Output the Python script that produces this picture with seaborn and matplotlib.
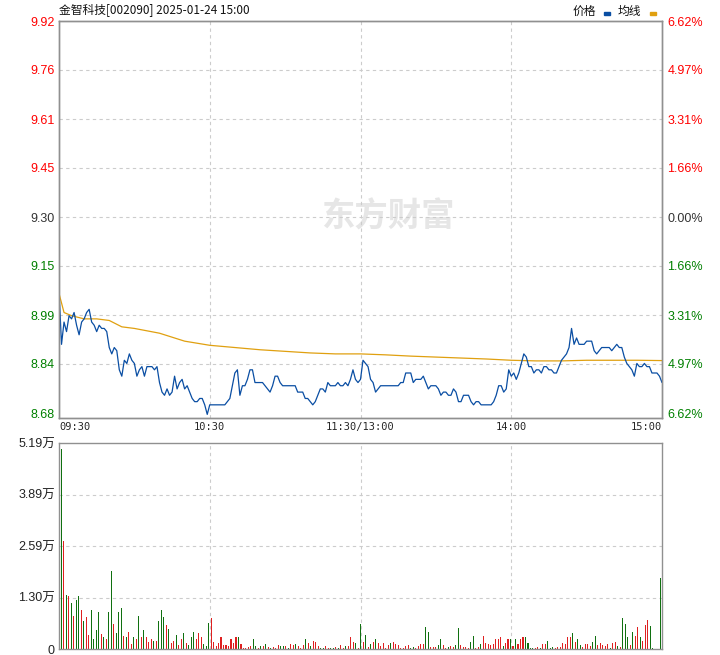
import numpy as np
import pandas as pd
import seaborn as sns
import matplotlib.pyplot as plt
from matplotlib.patches import Rectangle

# ---- data (one value per minute, 09:30 .. 15:00) ----
title = '金智科技[002090] 2025-01-24 15:00'
prev_close = 9.30
price_labels = ['9.92', '9.76', '9.61', '9.45', '9.30', '9.15', '8.99', '8.84', '8.68']
pct_labels = ['6.62%', '4.97%', '3.31%', '1.66%', '0.00%', '1.66%', '3.31%', '4.97%', '6.62%']
limit_pct = 6.62

price = [
    9.07, 8.90, 8.97, 8.94, 8.99, 8.98, 9.00, 8.96, 8.93, 8.97,
    8.98, 9.00, 9.01, 8.97, 8.96, 8.94, 8.96, 8.95, 8.95, 8.94,
    8.89, 8.87, 8.89, 8.88, 8.82, 8.80, 8.85, 8.84, 8.87, 8.85,
    8.84, 8.80, 8.82, 8.83, 8.80, 8.83, 8.83, 8.83, 8.82, 8.83,
    8.78, 8.75, 8.74, 8.76, 8.74, 8.75, 8.80, 8.76, 8.78, 8.79,
    8.76, 8.77, 8.75, 8.73, 8.72, 8.72, 8.73, 8.73, 8.71, 8.68,
    8.71, 8.71, 8.71, 8.71, 8.71, 8.71, 8.71, 8.72, 8.73, 8.77,
    8.81, 8.82, 8.74, 8.77, 8.77, 8.79, 8.82, 8.82, 8.78, 8.78,
    8.78, 8.78, 8.77, 8.76, 8.75, 8.77, 8.80, 8.80, 8.78, 8.77,
    8.77, 8.77, 8.77, 8.77, 8.77, 8.75, 8.75, 8.75, 8.73, 8.73,
    8.72, 8.71, 8.72, 8.74, 8.76, 8.76, 8.75, 8.78, 8.77, 8.77,
    8.77, 8.78, 8.77, 8.77, 8.78, 8.77, 8.79, 8.82, 8.79, 8.78,
    8.79, 8.85, 8.84, 8.83, 8.79, 8.78, 8.75, 8.76, 8.77, 8.77,
    8.77, 8.77, 8.77, 8.77, 8.77, 8.77, 8.78, 8.78, 8.81, 8.81,
    8.81, 8.78, 8.79, 8.79, 8.79, 8.80, 8.78, 8.76, 8.77, 8.77,
    8.77, 8.76, 8.74, 8.75, 8.75, 8.74, 8.74, 8.76, 8.75, 8.72,
    8.72, 8.74, 8.74, 8.74, 8.72, 8.71, 8.72, 8.72, 8.71, 8.71,
    8.71, 8.71, 8.71, 8.72, 8.74, 8.77, 8.77, 8.75, 8.76, 8.82,
    8.80, 8.81, 8.79, 8.81, 8.84, 8.87, 8.86, 8.83, 8.83, 8.81,
    8.82, 8.82, 8.81, 8.83, 8.83, 8.82, 8.82, 8.81, 8.81, 8.83,
    8.85, 8.86, 8.87, 8.89, 8.95, 8.90, 8.92, 8.90, 8.90, 8.90,
    8.91, 8.91, 8.91, 8.88, 8.87, 8.88, 8.89, 8.89, 8.89, 8.89,
    8.88, 8.89, 8.90, 8.89, 8.89, 8.86, 8.84, 8.83, 8.82, 8.80,
    8.84, 8.83, 8.83, 8.84, 8.83, 8.83, 8.81, 8.81, 8.81, 8.80,
    8.78,
]

avg_minute = [0, 2, 5, 10, 15, 20, 25, 30, 40, 50, 60, 70, 80, 90, 100,
              110, 120, 130, 140, 150, 160, 170, 180, 190, 200, 210, 220, 230, 240]
avg_price = [9.06, 9.00, 8.99, 8.98, 8.98, 8.975, 8.955, 8.95, 8.935, 8.91,
             8.897, 8.89, 8.883, 8.878, 8.873, 8.87, 8.87, 8.867, 8.863, 8.86,
             8.857, 8.854, 8.85, 8.848, 8.848, 8.85, 8.85, 8.85, 8.849]

volume = [
    50500, 27100, 13700, 13400, 11600, 8400, 12400, 13400, 9900, 7100,
    8100, 3600, 9700, 2600, 4900, 9200, 3900, 2900, 2600, 9400,
    19700, 6400, 4100, 9200, 10400, 3400, 2900, 4400, 1300, 3100,
    2400, 8400, 2900, 4900, 2900, 1800, 2400, 2100, 2100, 7100,
    9700, 8100, 6100, 5100, 1600, 2100, 3600, 1100, 2400, 4100,
    1600, 1100, 2900, 4400, 2400, 4100, 3100, 1300, 800, 6600,
    7900, 1800, 800, 1600, 2900, 1100, 1100, 800, 2600, 1600,
    2900, 3100, 1300, 300, 300, 600, 800, 2600, 800, 300,
    800, 800, 1300, 600, 300, 600, 300, 1100, 800, 800,
    800, 300, 1300, 1100, 1300, 800, 300, 1100, 2600, 1600,
    800, 2100, 1800, 800, 300, 300, 800, 300, 300, 300,
    600, 300, 1100, 300, 800, 800, 2900, 1800, 1600, 300,
    6400, 1800, 3600, 600, 1300, 1800, 2400, 1600, 800, 1600,
    300, 1100, 1600, 1800, 1300, 1100, 300, 300, 800, 1100,
    300, 600, 300, 800, 1300, 1300, 5600, 4400, 600, 600,
    600, 1100, 2600, 1100, 300, 600, 800, 600, 1100, 5400,
    1100, 600, 600, 300, 1800, 3400, 300, 600, 1300, 3400,
    1600, 1300, 1100, 1300, 2600, 2600, 2900, 800, 1600, 2400,
    2600, 800, 2400, 1300, 2400, 3100, 3100, 1600, 300, 300,
    300, 600, 300, 1300, 1300, 2100, 300, 600, 300, 600,
    600, 1600, 1300, 3100, 2900, 4100, 1800, 2400, 1100, 600,
    1300, 1300, 800, 1800, 3400, 1100, 1600, 1100, 800, 1300,
    300, 1600, 1800, 800, 600, 7900, 6400, 3100, 1100, 4400,
    3400, 5600, 3100, 2100, 6100, 7400, 5900, 300, 0, 0,
    18000,
]

# 1 = up tick (red bar), 0 = down tick (green bar)
up = [
    0, 1, 0, 1, 0, 1, 0, 0, 1, 0, 1, 1, 0, 0, 0, 0, 1, 0, 1, 0,
    0, 1, 0, 0, 0, 1, 0, 1, 1, 0, 1, 0, 1, 0, 1, 1, 1, 0, 1, 0,
    0, 0, 1, 0, 1, 1, 0, 1, 1, 0, 1, 0, 0, 0, 1, 1, 1, 0, 0, 0,
    1, 1, 1, 1, 1, 1, 1, 1, 1, 1, 1, 0, 1, 1, 1, 1, 1, 0, 0, 1,
    0, 1, 0, 1, 0, 1, 1, 1, 0, 0, 1, 0, 1, 1, 0, 1, 1, 1, 0, 1,
    0, 1, 1, 1, 0, 0, 1, 1, 0, 0, 1, 0, 1, 1, 0, 1, 1, 1, 0, 1,
    0, 1, 0, 1, 0, 1, 0, 1, 1, 1, 1, 1, 0, 1, 1, 1, 1, 1, 1, 1,
    0, 0, 1, 1, 1, 1, 0, 0, 1, 1, 1, 0, 0, 1, 1, 0, 1, 1, 0, 0,
    1, 1, 1, 1, 0, 0, 1, 1, 0, 1, 1, 1, 1, 1, 1, 1, 1, 0, 1, 1,
    0, 1, 0, 1, 1, 1, 0, 0, 0, 0, 1, 1, 0, 1, 1, 0, 0, 0, 1, 1,
    1, 1, 1, 1, 1, 0, 1, 0, 0, 1, 1, 1, 1, 0, 0, 1, 1, 1, 1, 1,
    0, 1, 1, 0, 1, 0, 0, 0, 1, 0, 1, 1, 0, 1, 1, 1, 0, 0, 0, 0,
    0,
]

time_ticks = [0, 60, 120, 180, 240]
time_labels = ['09:30', '10:30', '11:30/13:00', '14:00', '15:00']
vol_max = 51900
vol_labels = ['0', '1.30万', '2.59万', '3.89万', '5.19万']

# ---- style ----
sns.set_style('white')
plt.rcParams['font.family'] = ['Liberation Sans', 'Noto Sans CJK SC']

RED = '#ff0000'
GREEN = '#008000'
BLUE = '#0a4ea3'
ORANGE = '#e0a010'
FRAME = '#909090'
GRID = '#cccccc'

fig = plt.figure(figsize=(7.2, 6.55), dpi=100)
W, H = 720, 655
ax = fig.add_axes([59 / W, 1 - 418 / H, 603 / W, 397 / H])
axv = fig.add_axes([59 / W, 1 - 649 / H, 603 / W, 206 / H])

minutes = np.arange(len(price))

# price levels: prev close +/- limit, 8 equal steps
steps = np.arange(4, -5, -1)
levels = prev_close * (1 + limit_pct * steps / 4 / 100)
lo, hi = levels[-1], levels[0]
pad = (hi - lo) * 5 / 392

# watermark
ax.text(0.545, 0.505, '东方财富', transform=ax.transAxes, fontsize=24,
        fontweight='bold', color='#e6e6e6', ha='center', va='center',
        family=['Noto Sans CJK SC'], zorder=0)

for lv in levels[1:-1]:
    ax.axhline(lv, color=GRID, lw=0.8, ls=(0, (3, 3)), zorder=1)
for t in time_ticks[1:-1]:
    ax.axvline(t, color=GRID, lw=0.8, ls=(0, (3, 3)), zorder=1)

sns.lineplot(x=avg_minute, y=avg_price, ax=ax, color=ORANGE, lw=0.9, zorder=3)
sns.lineplot(x=minutes, y=price, ax=ax, color=BLUE, lw=0.9, zorder=4)

ax.set_xlim(0, 240)
ax.set_ylim(lo - pad, hi)
ax.set_yticks(levels)
ax.set_yticklabels(price_labels, fontsize=9)
colors = [RED if s > 0 else (GREEN if s < 0 else '#333333') for s in steps]
for lbl, c in zip(ax.get_yticklabels(), colors):
    lbl.set_color(c)
ax.set_xticks(time_ticks)
ax.set_xticklabels(time_labels, fontsize=7.5, family=['DejaVu Sans Mono'])
xl = ax.get_xticklabels()
xl[0].set_ha('left')
xl[-1].set_ha('right')
ax.tick_params(length=0, pad=3)
ax.set_xlabel('')
ax.set_ylabel('')

ax2 = ax.twinx()
ax2.set_ylim(ax.get_ylim())
ax2.set_yticks(levels)
ax2.set_yticklabels(pct_labels, fontsize=9)
for lbl, c in zip(ax2.get_yticklabels(), colors):
    lbl.set_color(c)
ax2.tick_params(length=0, pad=4)

for a in (ax, ax2, axv):
    for sp in a.spines.values():
        sp.set_color(FRAME)
        sp.set_linewidth(1.0)

# volume panel
df = pd.DataFrame({'minute': minutes, 'volume': volume,
                   'side': ['up' if u else 'down' for u in up]})
vol_ticks = np.linspace(0, vol_max, 5)
for v in vol_ticks[1:-1]:
    axv.axhline(v, color=GRID, lw=0.8, ls=(0, (3, 3)), zorder=0)
sns.barplot(data=df, x='minute', y='volume', hue='side',
            palette={'up': RED, 'down': GREEN}, native_scale=True,
            dodge=False, width=0.42, errorbar=None, legend=False,
            linewidth=0, antialiased=False, ax=axv, zorder=2)
# bars sit a little right of the price points, as in the reference
axv.set_xlim(-0.92, 240.7)
for t in time_ticks[1:-1]:
    axv.axvline(t * 241.62 / 240 - 0.92, color=GRID, lw=0.8, ls=(0, (3, 3)), zorder=0)
axv.set_ylim(0, vol_max)
axv.set_yticks(vol_ticks)
axv.set_yticklabels(vol_labels, fontsize=9, color='#222222')
axv.set_xticks([])
axv.tick_params(length=0, pad=3)
axv.set_xlabel('')
axv.set_ylabel('')

# header
fig.text(59 / W, 1 - 10 / H, title, fontsize=8.5, va='center', ha='left',
         family=['Noto Sans CJK SC'], color='#111111')
fig.text(573 / W, 1 - 11 / H, '价格', fontsize=8.5, va='center', ha='left',
         family=['Noto Sans CJK SC'], color='#111111')
fig.text(618 / W, 1 - 11 / H, '均线', fontsize=8.5, va='center', ha='left',
         family=['Noto Sans CJK SC'], color='#111111')
fig.patches.append(Rectangle((604 / W, 1 - 15 / H), 6 / W, 3 / H,
                             transform=fig.transFigure, color=BLUE))
fig.patches.append(Rectangle((650 / W, 1 - 15 / H), 6 / W, 3 / H,
                             transform=fig.transFigure, color=ORANGE))

fig.savefig('out.png', dpi=100, facecolor='white')
plt.close('all')
